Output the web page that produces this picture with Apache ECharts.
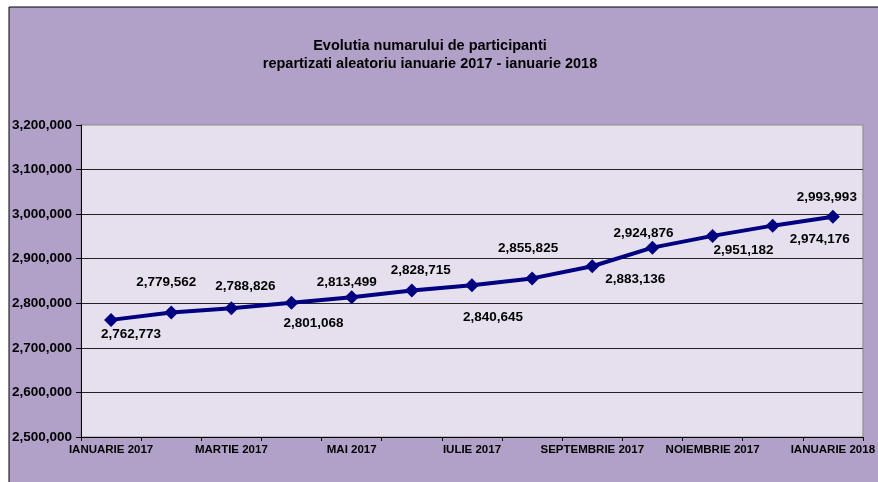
<!DOCTYPE html>
<html>
<head>
<meta charset="utf-8">
<script src="https://cdn.jsdelivr.net/npm/echarts@6/dist/echarts.min.js"></script>
<style>
  html, body { margin: 0; padding: 0; background: #fff; }
  #chart { width: 878px; height: 482px; }
</style>
</head>
<body>
<div id="chart"></div>
<script>
// luni (categorii)
var months = ["IANUARIE 2017", "FEBRUARIE 2017", "MARTIE 2017", "APRILIE 2017", "MAI 2017", "IUNIE 2017",
  "IULIE 2017", "AUGUST 2017", "SEPTEMBRIE 2017", "OCTOMBRIE 2017", "NOIEMBRIE 2017", "DECEMBRIE 2017", "IANUARIE 2018"];
// numar participanti
var participants = [2762773, 2779562, 2788826, 2801068, 2813499, 2828715, 2840645,
  2855825, 2883136, 2924876, 2951182, 2974176, 2993993];
// etichete axa y
var yTicks = [2500000, 2600000, 2700000, 2800000, 2900000, 3000000, 3100000, 3200000];

// pozitia etichetelor fata de punct (px)
var labelOffsets = [[20, 14], [-5, -30], [14, -22], [22, 20], [-5, -15], [9, -20], [21, 32],
  [-4, -30], [43, 13], [-9, -14], [31, 14], [47, 14], [-6, -20]];

function fmt(v) {
  return String(v).replace(/\B(?=(\d{3})+(?!\d))/g, ",");
}

var chart = echarts.init(document.getElementById("chart"));
var option = {
  animation: false,
  backgroundColor: "#fff",
  graphic: [{
    type: "rect",
    z: -10,
    shape: { x: 9, y: 7, width: 900, height: 500 },
    style: { fill: "#B1A1C8", stroke: "#000", lineWidth: 1 }
  }],
  title: {
    text: "Evolutia numarului de participanti\nrepartizati aleatoriu ianuarie 2017 - ianuarie 2018",
    left: 425,
    textAlign: "center",
    top: 32,
    textStyle: {
      fontFamily: "Liberation Sans, Arial",
      fontSize: 14.5,
      fontWeight: "bold",
      color: "#000",
      lineHeight: 18
    }
  },
  grid: {
    left: 81,
    right: 14,
    top: 125,
    bottom: 45,
    show: true,
    backgroundColor: "#E6E0EE",
    borderColor: "#8a8a8a",
    borderWidth: 1
  },
  xAxis: {
    type: "category",
    boundaryGap: true,
    data: months,
    axisLine: { lineStyle: { color: "#000", width: 1 } },
    axisTick: { show: true, interval: 0, length: 4, lineStyle: { color: "#000" } },
    axisLabel: {
      interval: 1,
      margin: 7,
      color: "#000",
      fontFamily: "Liberation Sans, Arial",
      fontWeight: "bold",
      fontSize: 11.5
    }
  },
  yAxis: {
    type: "value",
    min: yTicks[0],
    max: yTicks[yTicks.length - 1],
    interval: 100000,
    axisLine: { show: true, lineStyle: { color: "#000", width: 1 } },
    axisTick: { show: true, length: 5, lineStyle: { color: "#000" } },
    splitLine: { show: true, showMaxLine: false, showMinLine: false, lineStyle: { color: "#222", width: 1 } },
    axisLabel: {
      margin: 9,
      color: "#000",
      fontFamily: "Liberation Sans, Arial",
      fontWeight: "bold",
      fontSize: 13.5,
      formatter: function (v) { return fmt(v); }
    }
  },
  series: [{
    type: "line",
    data: participants.map(function (v, i) {
      return { value: v, label: { offset: labelOffsets[i] } };
    }),
    symbol: "diamond",
    symbolSize: 14,
    lineStyle: { color: "#000080", width: 4 },
    itemStyle: { color: "#000080" },
    label: {
      show: true,
      position: "inside",
      align: "center",
      verticalAlign: "middle",
      color: "#000",
      fontFamily: "Liberation Sans, Arial",
      fontWeight: "bold",
      fontSize: 13.5,
      formatter: function (p) { return fmt(p.value); }
    }
  }]
};
chart.setOption(option);
</script>
</body>
</html>
